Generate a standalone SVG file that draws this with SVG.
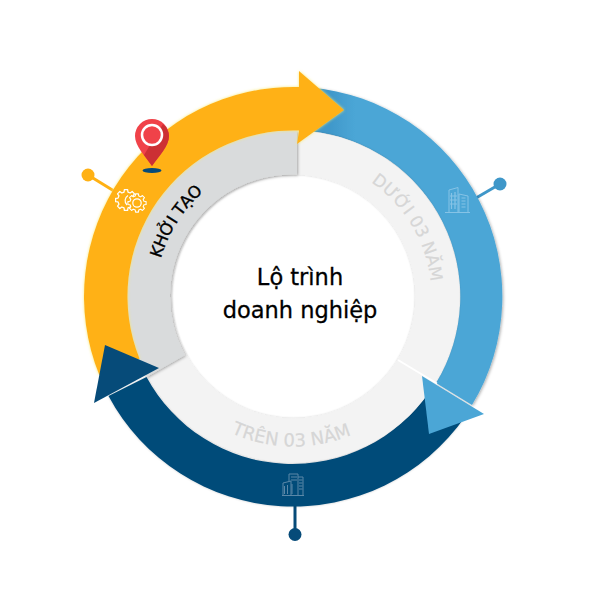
<svg xmlns="http://www.w3.org/2000/svg" width="590" height="590" viewBox="0 0 590 590">
<style>
.curve{font-family:"DejaVu Sans","Noto Sans",sans-serif;font-size:15.500px}
.faint{fill:#d6d6d6;stroke:#d6d6d6;stroke-width:.2}
.title{font-family:"DejaVu Sans","Noto Sans",sans-serif;font-size:22.500px;fill:#000;text-anchor:middle;stroke:#000;stroke-width:.3}
.g{fill:none;stroke:#fff;stroke-width:1.2;stroke-linejoin:round;vector-effect:non-scaling-stroke}
.b{fill:none;stroke-width:1;stroke-linejoin:miter}
.bl{stroke:#86c3e6}
.nv{stroke:#5b88a8}
</style>
<defs>
<filter id="shadow" x="-10%" y="-10%" width="120%" height="120%"><feDropShadow dx="1" dy="1" stdDeviation="1.800" flood-color="#000" flood-opacity=".32"/></filter>
<filter id="soft" x="-10%" y="-10%" width="120%" height="120%"><feDropShadow dx="0" dy="0" stdDeviation="1.200" flood-color="#000" flood-opacity=".22"/></filter>
<filter id="glow" x="-10%" y="-10%" width="120%" height="120%"><feDropShadow dx="0" dy="0" stdDeviation="1.500" flood-color="#f5e96a" flood-opacity=".9"/></filter>
<linearGradient id="blueFill" gradientUnits="userSpaceOnUse" x1="330" y1="0" x2="355" y2="0"><stop offset="0" stop-color="#4098ca"/><stop offset="1" stop-color="#4ba6d6"/></linearGradient>
<path id="gear" d="M7.57-1.89L9.88-1.56L9.88 1.56L7.57 1.89L6.69 4.02L8.09 5.88L5.88 8.09L4.02 6.69L1.89 7.57L1.56 9.88L-1.56 9.88L-1.89 7.57L-4.02 6.69L-5.88 8.09L-8.09 5.88L-6.69 4.02L-7.57 1.89L-9.88 1.56L-9.88-1.56L-7.57-1.89L-6.69-4.02L-8.09-5.88L-5.88-8.09L-4.02-6.69L-1.89-7.57L-1.56-9.88L1.56-9.88L1.89-7.57L4.02-6.69L5.88-8.09L8.09-5.88L6.69-4.02Z"/>
<path id="pathKhoi" d="M156.700 314.500A138 138 0 0 1 252 164.900" fill="none"/>
<path id="pathDuoi" d="M338.400 166A138 138 0 0 1 429.800 318.100" fill="none"/>
<path id="pathTren" d="M187.400 402.600A150 150 0 0 0 399.600 402.600" fill="none"/>
</defs>
<g id="connectors">
<g fill="#ffb114" stroke="#ffb114"><line x1="88" y1="175" x2="114" y2="191" stroke-width="3"/><circle cx="88" cy="175" r="6.500" stroke="none"/></g>
<g fill="#3f97c9" stroke="#3f97c9"><line x1="500" y1="184" x2="476" y2="198" stroke-width="3"/><circle cx="500" cy="184" r="6.500" stroke="none"/></g>
<g fill="#064b79" stroke="#064b79"><line x1="295" y1="503" x2="295" y2="534" stroke-width="3"/><circle cx="295" cy="534.500" r="6.500" stroke="none"/></g>
</g>
<g id="node-tren">
<path d="M429.500 391.700A166 166 0 0 1 146.500 377L108.500 396A209.500 209.500 0 0 0 465.100 416.700Z" fill="#064b79" filter="url(#soft)"/>
</g>
<g id="node-duoi">
<path d="M310 87.600A209.500 209.500 0 0 1 472 405L436 383A166 166 0 0 0 310 131.300Z" fill="url(#blueFill)" filter="url(#shadow)"/>
</g>
<g id="node-rings">
<circle cx="293.500" cy="296.500" r="144" fill="none" stroke="#f3f3f3" stroke-width="44" filter="url(#soft)"/>
<line x1="398" y1="360" x2="437" y2="383.500" stroke="#fff" stroke-width="2"/>
<path d="M297 130.500A166 166 0 0 0 146.500 377L185 355A122 122 0 0 1 297 174.500Z" fill="#d9dbdc" filter="url(#shadow)"/>
<text class="curve faint" style="font-size:17px"><textPath href="#pathDuoi" startOffset="50%" text-anchor="middle">DƯỚI 03 NĂM</textPath></text>
<text class="curve faint" style="font-size:18px"><textPath href="#pathTren" startOffset="49%" text-anchor="middle">TRÊN 03 NĂM</textPath></text>
<text class="curve" fill="#000" stroke="#000" stroke-width=".35" style="font-size:16.500px;letter-spacing:-.4px"><textPath href="#pathKhoi" startOffset="50%" text-anchor="middle">KHỞI TẠO</textPath></text>
</g>
<g id="node-khoi-tao">
<path d="M299 87A209.500 209.500 0 0 0 99.300 375L139.600 358.700A166 166 0 0 1 299 130.500L297 144L344 110L299 71Z" fill="#ffb114" filter="url(#glow)"/>
</g>
<g id="arrow-blue"><polygon points="422,376 484,414 429,434" fill="#4ba6d6"/></g>
<g id="arrow-navy"><polygon points="105,345 159,368 94,403" fill="#064b79"/></g>
<g id="icon-gear">
<use href="#gear" class="g" transform="translate(126 200) scale(1.05)"/>
<path class="g" d="M128 195.500A6 6 0 0 0 127 205"/>
<use href="#gear" class="g" style="fill:#ffb114" transform="translate(137 203) scale(.92)"/>
<circle class="g" cx="137" cy="203" r="4.200"/>
</g>
<g id="icon-building-blue" class="b bl">
<path d="M445 212.500H470M449 212V190L458 187.500V212M459 212V194L468 196V212"/>
<path d="M451.500 193v16M455 192v17M461.500 198h4M461.500 201h4M461.500 204h4M461.500 207h4M450 196h7M450 200h7M450 204h7" stroke-width="1.200"/>
</g>
<g id="icon-building-navy" class="b nv">
<path d="M282 495.500H304M283 495V483L291 481V495M289 481V474H298V495M298 477H303V495"/>
<path d="M299 480h3.500M299 483h3.500M299 486h3.500M299 489h3.500M291 477h6M291 480h6M284.500 486v8M287.500 485v9M292 484v10"/>
</g>
<g id="pin">
<ellipse cx="152" cy="170.500" rx="9.500" ry="2.500" fill="#064b79"/>
<path d="M152 119A17 17 0 0 1 169 136C169 146 159 156 152 166C145 156 135 146 135 136A17 17 0 0 1 152 119Z" fill="#f04249"/>
<path d="M163 124A17 17 0 0 1 169 136C169 146 159 156 152 166L144 155L163 124Z" fill="#cc3034"/>
<circle cx="152" cy="135" r="10" fill="#f04249" stroke="#fff" stroke-width="2.500"/>
</g>
<g id="center-title">
<text class="title" x="300" y="285">Lộ trình</text>
<text class="title" x="300" y="318">doanh nghiệp</text>
</g>
</svg>
